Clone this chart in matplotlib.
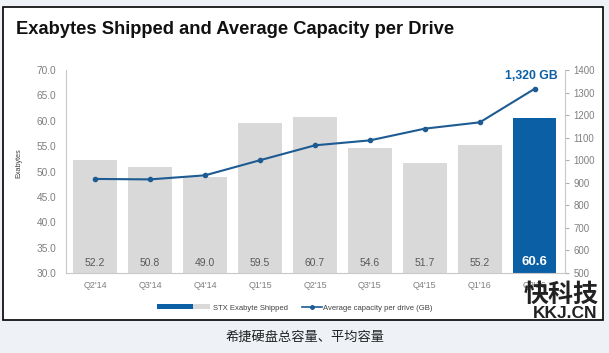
import matplotlib.pyplot as plt
from matplotlib.patches import Rectangle, Patch
from matplotlib.lines import Line2D
from matplotlib.legend_handler import HandlerTuple

quarters = ["Q2'14", "Q3'14", "Q4'14", "Q1'15", "Q2'15", "Q3'15", "Q4'15", "Q1'16", "Q2'16"]
exabytes = [52.2, 50.8, 49.0, 59.5, 60.7, 54.6, 51.7, 55.2, 60.6]
avg_capacity = [917, 915, 933, 1000, 1066, 1088, 1140, 1168, 1317]

grey = "#d9d9d9"
blue = "#0b5fa5"
line_blue = "#1d5b92"
tick_grey = "#7f7f7f"

plt.rcParams["font.family"] = ["Liberation Sans", "Noto Sans CJK SC", "DejaVu Sans"]

fig = plt.figure(figsize=(6.09, 3.53), dpi=100)
fig.patch.set_facecolor("#eef2f7")

# white framed box behind everything
fig.patches.append(Rectangle((3 / 609, 1 - 320 / 353), 600 / 609, 313 / 353,
                             transform=fig.transFigure, facecolor="white",
                             edgecolor="black", linewidth=1.2, zorder=-5))

ax = fig.add_axes([66 / 609, 1 - 273 / 353, (565 - 66) / 609, (273 - 70) / 353])
ax.set_facecolor("none")

x = list(range(len(quarters)))
colors = [grey] * (len(quarters) - 1) + [blue]
ax.bar(x, [v - 30 for v in exabytes], bottom=30, width=0.79, color=colors, zorder=2)
ax.set_ylim(30, 70)
ax.set_xlim(-0.53, len(quarters) - 0.45)
ax.set_yticks(range(30, 71, 5))
ax.set_yticklabels([f"{v:.1f}" for v in range(30, 71, 5)])
ax.set_xticks(x)
ax.set_xticklabels(quarters)
ax.tick_params(axis="both", colors=tick_grey, length=0)
ax.tick_params(axis="y", pad=7, labelsize=7.3)
ax.tick_params(axis="x", pad=6, labelsize=6.5)
for s in ["top", "right"]:
    ax.spines[s].set_visible(False)
for s in ["left", "bottom"]:
    ax.spines[s].set_color("#c8c8c8")
ax.set_ylabel("Exabytes", fontsize=5.2, color="#404040")
ax.yaxis.set_label_coords(-0.088, 0.54)

for i, v in enumerate(exabytes):
    if i == len(exabytes) - 1:
        ax.text(i, 31.0, f"{v:.1f}", ha="center", va="bottom", color="white",
                fontsize=9.5, fontweight="bold", zorder=3)
    else:
        ax.text(i, 31.0, f"{v:.1f}", ha="center", va="bottom", color="#595959",
                fontsize=7.5, zorder=3)

ax2 = ax.twinx()
ax2.plot(x, avg_capacity, color=line_blue, marker="o", markersize=3, linewidth=1.5, zorder=4)
ax2.set_ylim(500, 1400)
ax2.set_yticks(range(500, 1401, 100))
ax2.tick_params(axis="y", colors=tick_grey, labelsize=6.9, length=3, width=0.8, pad=3)
ax2.tick_params(axis="y", color="#b0b0b0")
for s in ["top", "left", "bottom"]:
    ax2.spines[s].set_visible(False)
ax2.spines["right"].set_color("#c8c8c8")
ax2.text(x[-1] - 0.07, 1373, "1,320 GB", ha="center", va="center",
         color=blue, fontsize=8.8, fontweight="bold")

fig.text(16 / 609, 1 - 30 / 353, "Exabytes Shipped and Average Capacity per Drive",
         fontsize=13.2, fontweight="bold", color="#111111", va="center", ha="left")

h_bar = (Patch(facecolor=blue), Patch(facecolor=blue), Patch(facecolor=grey))
h_line = Line2D([], [], color=line_blue, marker="o", markersize=2.5, linewidth=1.2)
leg1 = fig.legend([h_bar], ["STX Exabyte Shipped"],
                  handler_map={tuple: HandlerTuple(ndivide=None, pad=0)},
                  loc="center left", bbox_to_anchor=(157 / 609, 1 - 308 / 353),
                  frameon=False, fontsize=5.5, labelcolor="#404040", handlelength=7,
                  handleheight=0.6, handletextpad=0.3, borderpad=0, borderaxespad=0)
fig.legend([h_line], ["Average capacity per drive (GB)"],
           loc="center left", bbox_to_anchor=(302 / 609, 1 - 308 / 353),
           frameon=False, fontsize=5.5, labelcolor="#404040", handlelength=2.6,
           handletextpad=0.2, borderpad=0, borderaxespad=0)

# watermark
fig.text(561 / 609, 1 - 295 / 353, "快科技", fontsize=18, fontweight="bold",
         color="#222222", ha="center", va="center")
fig.text(565 / 609, 1 - 313 / 353, "KKJ.CN", fontsize=12.5, fontweight="bold",
         color="#222222", ha="center", va="center")

fig.text(305 / 609, 1 - 338 / 353, "希捷硬盘总容量、平均容量", fontsize=9.5,
         color="#222222", ha="center", va="center")

fig.savefig("out.png", dpi=100, facecolor=fig.get_facecolor())
